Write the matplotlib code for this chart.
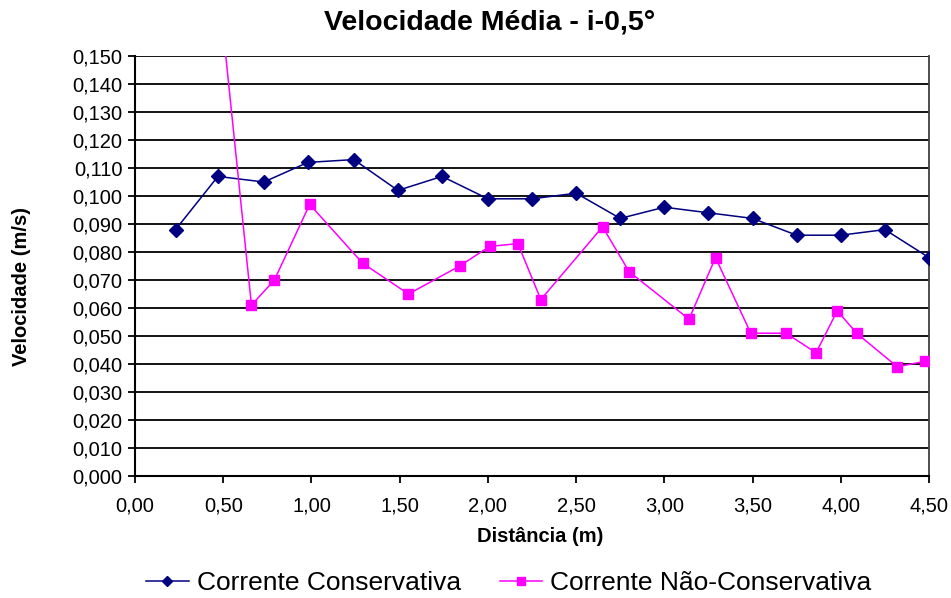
import matplotlib
matplotlib.use('Agg')
import matplotlib.pyplot as plt
import numpy as np
from matplotlib.ticker import FuncFormatter, MultipleLocator

plt.rcParams['font.family'] = ['Liberation Sans', 'DejaVu Sans']

# corrente conservativa
dist_cons = [0.23, 0.47, 0.73, 0.98, 1.24, 1.49, 1.74, 2.00, 2.25,
             2.50, 2.75, 3.00, 3.25, 3.50, 3.75, 4.00, 4.25, 4.50]
vel_cons = [0.088, 0.107, 0.105, 0.112, 0.113, 0.102, 0.107, 0.099, 0.099,
            0.101, 0.092, 0.096, 0.094, 0.092, 0.086, 0.086, 0.088, 0.078]

# corrente nao-conservativa
dist_ncons = [0.49, 0.66, 0.79, 0.99, 1.29, 1.55, 1.84, 2.01, 2.17, 2.30,
              2.65, 2.80, 3.14, 3.29, 3.49, 3.69, 3.86, 3.98, 4.09, 4.32, 4.48]
vel_ncons = [0.165, 0.061, 0.070, 0.097, 0.076, 0.065, 0.075, 0.082, 0.083, 0.063,
             0.089, 0.073, 0.056, 0.078, 0.051, 0.051, 0.044, 0.059, 0.051, 0.039, 0.041]

fig = plt.figure(figsize=(9.51, 5.98), dpi=100)
ax = fig.add_axes([135/951, 1-476/598, (929-135)/951, (476-56)/598])

ax.plot(dist_cons, vel_cons, color='#000080', lw=1.1, marker='D', ms=7,
        mec='#000080', mfc='#000080', label='Corrente Conservativa', zorder=3)
ax.plot(dist_ncons, vel_ncons, color='#FF00FF', lw=1.1, marker='s', ms=7,
        mec='#FF00FF', mfc='#FF00FF', label='Corrente Não-Conservativa', zorder=3)

ax.set_xlim(0, 4.5)
ax.set_ylim(0, 0.150)
ax.xaxis.set_major_locator(MultipleLocator(0.5))
ax.yaxis.set_major_locator(MultipleLocator(0.01))
ax.xaxis.set_major_formatter(FuncFormatter(lambda v, p: ('%.2f' % v).replace('.', ',')))
ax.yaxis.set_major_formatter(FuncFormatter(lambda v, p: ('%.3f' % v).replace('.', ',')))
ax.grid(True, axis='y', color='black', lw=1.3)
ax.set_axisbelow(True)

for s in ['left', 'bottom']:
    ax.spines[s].set_linewidth(1.5)
    ax.spines[s].set_color('black')
ax.spines['top'].set_visible(False)
ax.spines['right'].set_color('#404040')
ax.spines['right'].set_linewidth(1.3)

ax.tick_params(axis='both', direction='out', length=5, width=1.3, labelsize=14.5, pad=4)
ax.tick_params(axis='x', pad=10)

fig.text(490/951, 1-22/598, 'Velocidade Média - i-0,5°', ha='center', va='center',
         fontsize=20.5, fontweight='bold')
fig.text(540/951, 1-537/598, 'Distância (m)', ha='center', va='center',
         fontsize=14.5, fontweight='bold')
fig.text(22/951, 1-287/598, 'Velocidade (m/s)', ha='center', va='center',
         rotation=90, fontsize=14.5, fontweight='bold')

fig.legend(loc='center', bbox_to_anchor=(509/951, 1-583/598), ncol=2, frameon=False,
           fontsize=19, handlelength=1.6, columnspacing=1.5, handletextpad=0.3,
           markerscale=0.8)

fig.savefig('out.png', dpi=100)
